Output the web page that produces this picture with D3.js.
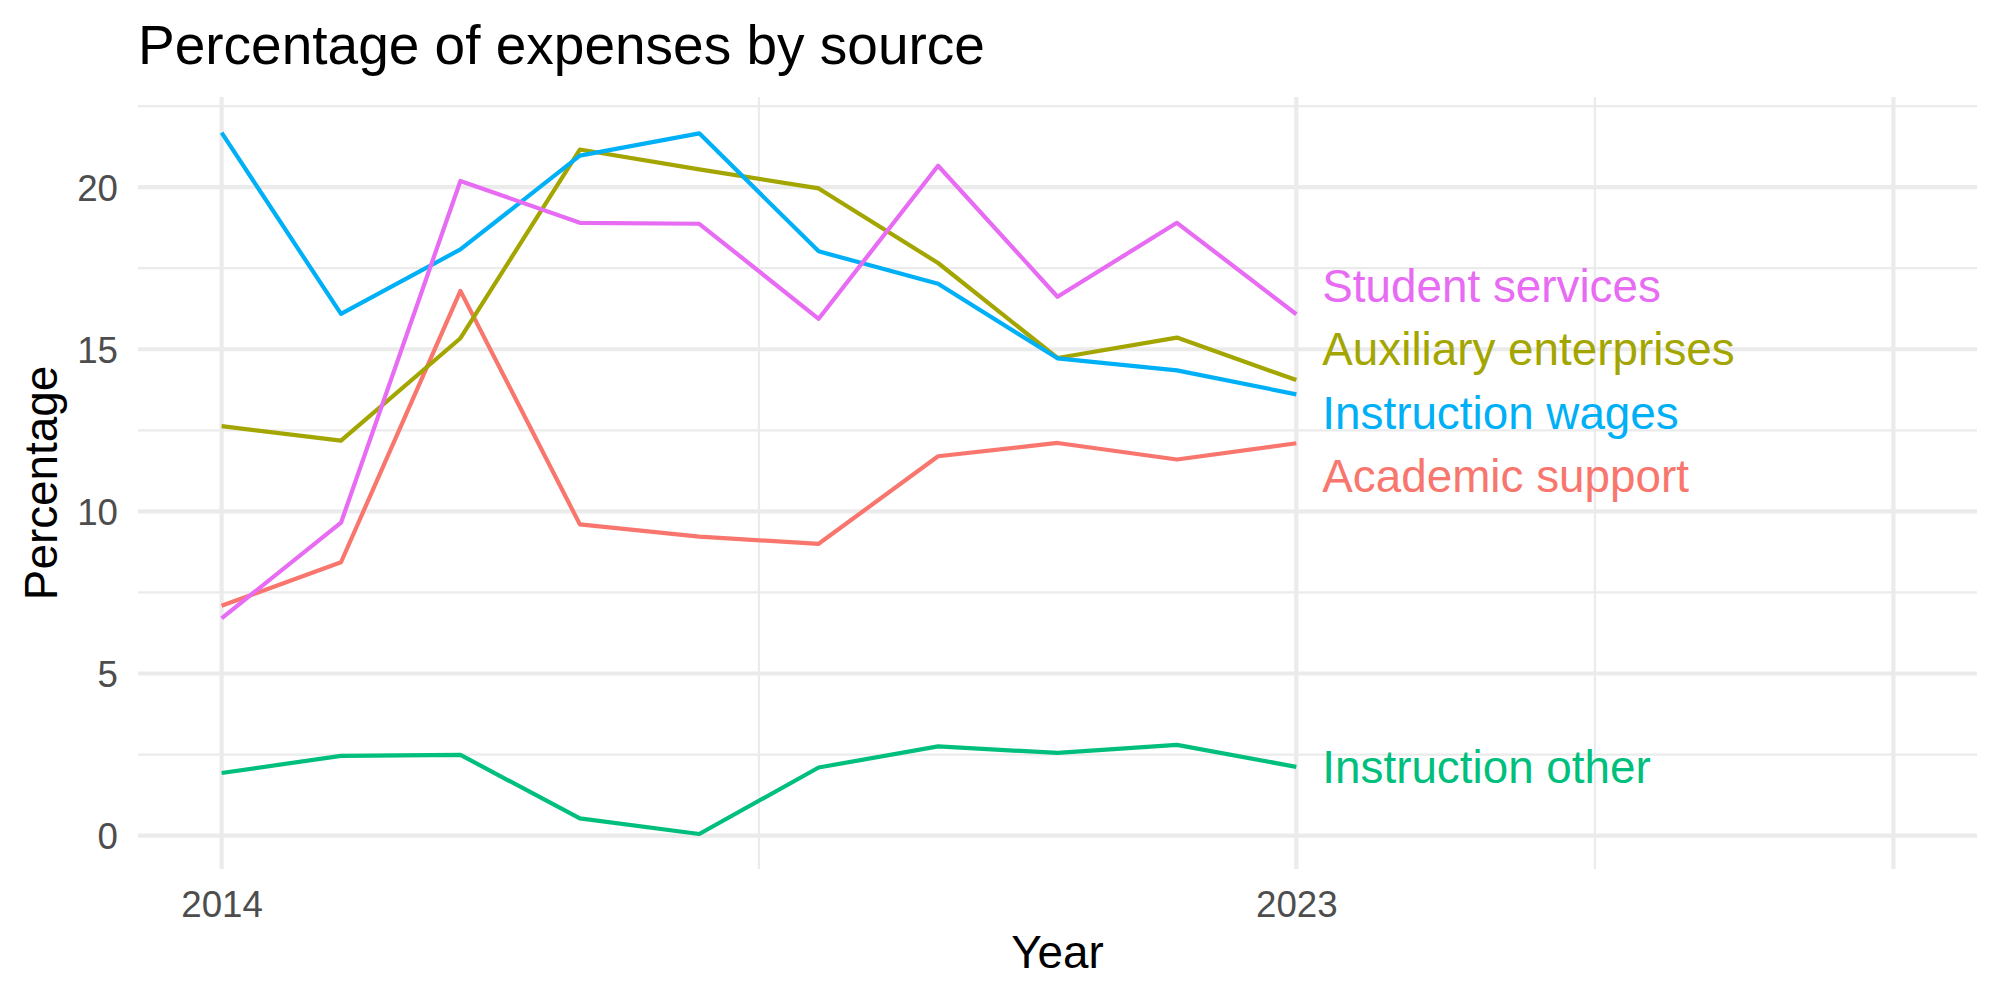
<!DOCTYPE html>
<html>
<head>
<meta charset="utf-8">
<script src="https://cdn.jsdelivr.net/npm/d3@7"></script>
<style>
  body { margin: 0; background: #fff; }
  text { font-family: "Liberation Sans", Arial, Helvetica, sans-serif; }
</style>
</head>
<body>
<svg id="chart" width="2000" height="1000"></svg>
<script>
// data
const years = [2014, 2015, 2016, 2017, 2018, 2019, 2020, 2021, 2022, 2023];
const academicSupport      = [7.09, 8.43, 16.8, 9.6, 9.22, 9.0, 11.7, 12.11, 11.6, 12.1];
const auxiliaryEnterprises = [12.63, 12.18, 15.34, 21.16, 20.55, 19.96, 17.66, 14.73, 15.36, 14.05];
const instructionOther     = [1.93, 2.46, 2.49, 0.53, 0.05, 2.1, 2.75, 2.55, 2.8, 2.12];
const instructionWages     = [21.68, 16.09, 18.08, 20.97, 21.66, 18.02, 17.02, 14.72, 14.35, 13.61];
const studentServices      = [6.7, 9.65, 20.19, 18.9, 18.87, 15.94, 20.66, 16.62, 18.9, 16.08];

const seriesNames = ["Academic support", "Auxiliary enterprises", "Instruction other", "Instruction wages", "Student services"];
const seriesValues = [academicSupport, auxiliaryEnterprises, instructionOther, instructionWages, studentServices];
const seriesColors = ["#F8766D", "#A3A500", "#00BF7D", "#00B0F6", "#E76BF3"];

const xBreaks = [2014, 2023, 2028];
const xLabels = ["2014", "2023", ""];
const xMinor = [2018.5, 2025.5];
const yBreaks = [0, 5, 10, 15, 20];
const yMinor = [2.5, 7.5, 12.5, 17.5, 22.5];

const svg = d3.select("#chart");
const panel = { left: 138, right: 1977, top: 97, bottom: 869 };

// x limits 2014..2028 with ggplot's 5% expansion
const x = d3.scaleLinear().domain([2013.3, 2028.7]).range([panel.left, panel.right]);
const y = d3.scaleLinear().domain([-1.03, 22.78]).range([panel.bottom, panel.top]);

svg.append("rect").attr("width", 2000).attr("height", 1000).attr("fill", "#fff");

const grid = svg.append("g");
grid.selectAll(".minx").data(xMinor).join("line")
  .attr("x1", d => x(d)).attr("x2", d => x(d))
  .attr("y1", panel.top).attr("y2", panel.bottom)
  .attr("stroke", "#EBEBEB").attr("stroke-width", 2.2);
grid.selectAll(".miny").data(yMinor).join("line")
  .attr("x1", panel.left).attr("x2", panel.right)
  .attr("y1", d => y(d)).attr("y2", d => y(d))
  .attr("stroke", "#EBEBEB").attr("stroke-width", 2.2);
grid.selectAll(".majx").data(xBreaks).join("line")
  .attr("x1", d => x(d)).attr("x2", d => x(d))
  .attr("y1", panel.top).attr("y2", panel.bottom)
  .attr("stroke", "#EBEBEB").attr("stroke-width", 4.2);
grid.selectAll(".majy").data(yBreaks).join("line")
  .attr("x1", panel.left).attr("x2", panel.right)
  .attr("y1", d => y(d)).attr("y2", d => y(d))
  .attr("stroke", "#EBEBEB").attr("stroke-width", 4.2);

// axes (labels only)
const xAxis = svg.append("g").attr("transform", `translate(0,${panel.bottom})`)
  .call(d3.axisBottom(x).tickValues(xBreaks).tickFormat((d, i) => xLabels[i]).tickSize(0));
xAxis.select(".domain").remove();
xAxis.selectAll("text").attr("y", 48).attr("dy", 0)
  .attr("font-size", 36.7).attr("fill", "#4D4D4D").attr("font-family", null);

const yAxis = svg.append("g").attr("transform", `translate(${panel.left},0)`)
  .call(d3.axisLeft(y).tickValues(yBreaks).tickSize(0));
yAxis.select(".domain").remove();
yAxis.selectAll("text").attr("x", -20).attr("dy", "0.36em")
  .attr("font-size", 36.7).attr("fill", "#4D4D4D").attr("font-family", null);

// lines
const line = d3.line().x((d, i) => x(years[i])).y(d => y(d));
svg.append("g").selectAll("path").data(seriesValues).join("path")
  .attr("d", d => line(d))
  .attr("fill", "none")
  .attr("stroke", (d, i) => seriesColors[i])
  .attr("stroke-width", 4.2)
  .attr("stroke-linejoin", "round");

// end labels, pushed apart so they don't overlap
const gap = 63.5;
let items = seriesNames.map((n, i) => ({ name: n, color: seriesColors[i], y0: y(seriesValues[i][years.length - 1]) }))
  .sort((a, b) => a.y0 - b.y0);
let clusters = items.map(it => ({ members: [it], mean: it.y0 }));
let merged = true;
while (merged) {
  merged = false;
  for (let k = 0; k < clusters.length - 1; k++) {
    const a = clusters[k], b = clusters[k + 1];
    const aBottom = a.mean + (a.members.length - 1) * gap / 2;
    const bTop = b.mean - (b.members.length - 1) * gap / 2;
    if (bTop - aBottom < gap) {
      const members = a.members.concat(b.members);
      clusters.splice(k, 2, { members, mean: d3.mean(members, m => m.y0) });
      merged = true;
      break;
    }
  }
}
clusters.forEach(c => {
  c.members.forEach((m, j) => { m.yl = c.mean + (j - (c.members.length - 1) / 2) * gap; });
});

svg.append("g").selectAll("text").data(items).join("text")
  .attr("x", x(2023) + 26)
  .attr("y", d => d.yl)
  .attr("dy", d => d.name === "Instruction other" ? "0.36em" : "0.31em")
  .attr("font-size", 45.8)
  .attr("fill", d => d.color)
  .text(d => d.name);

// titles
svg.append("text").attr("x", 138).attr("y", 64)
  .attr("font-size", 55).attr("fill", "#000")
  .text("Percentage of expenses by source");

svg.append("text").attr("x", (panel.left + panel.right) / 2).attr("y", 968)
  .attr("text-anchor", "middle").attr("font-size", 45.8).attr("fill", "#000")
  .text("Year");

svg.append("text")
  .attr("transform", `translate(57,${(panel.top + panel.bottom) / 2}) rotate(-90)`)
  .attr("text-anchor", "middle").attr("font-size", 45.8).attr("fill", "#000")
  .text("Percentage");
</script>
</body>
</html>
